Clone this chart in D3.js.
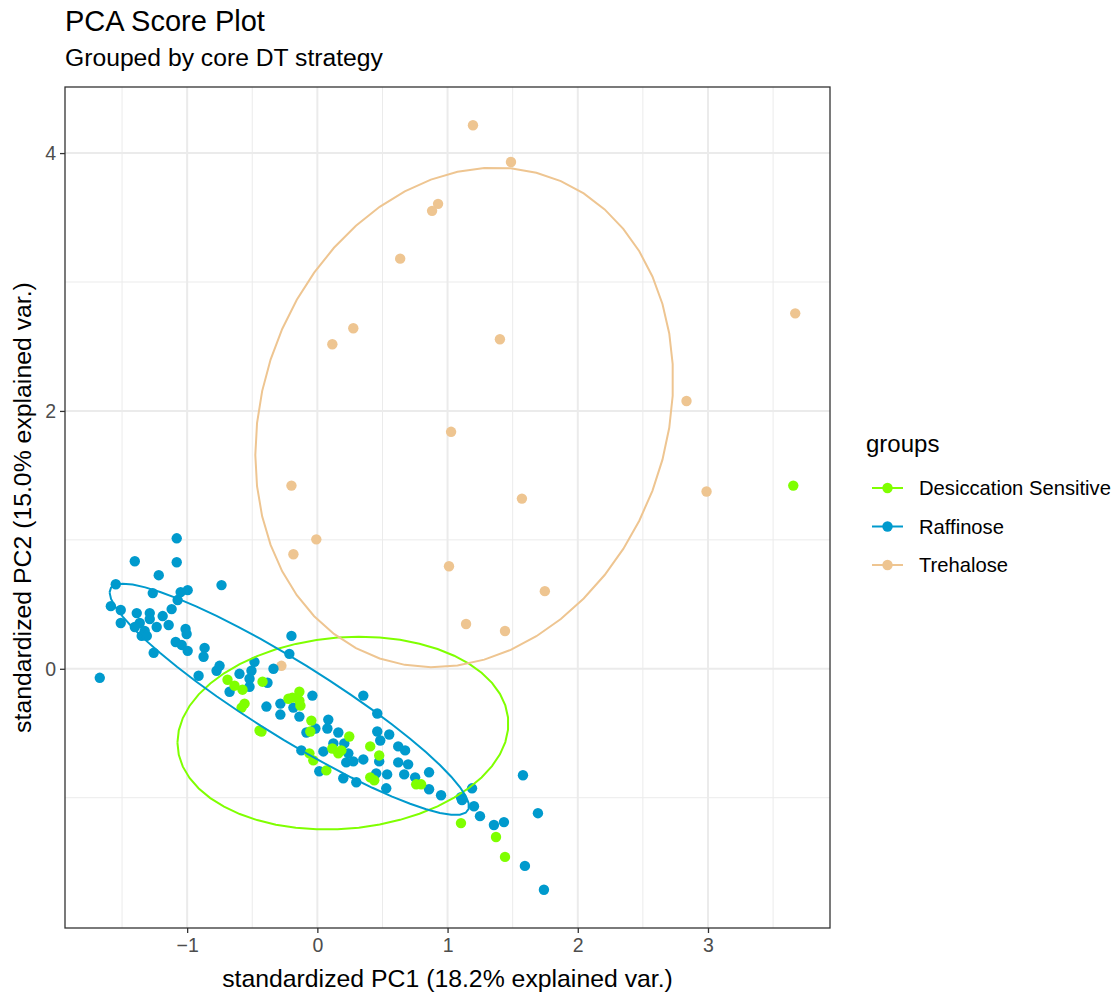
<!DOCTYPE html>
<html>
<head>
<meta charset="utf-8">
<script src="https://cdn.jsdelivr.net/npm/d3@7"></script>
<style>
  body { margin: 0; background: #fff; }
  text { font-family: "Liberation Sans", Arial, Helvetica, sans-serif; }
</style>
</head>
<body>
<svg id="chart" width="1116" height="994"></svg>
<script>
// groups + colours
const groups = ["Desiccation Sensitive", "Raffinose", "Trehalose"];
const groupColors = ["#7FFF00", "#009ACD", "#EEC591"];

// PC scores, [PC1, PC2]
const sensitiveScores = [
  [-0.690,-0.085],[-0.636,-0.131],[-0.575,-0.162],[-0.421,-0.100],[-0.559,-0.270],[-0.582,-0.301],
  [-0.222,-0.232],[-0.192,-0.224],[-0.138,-0.178],[-0.138,-0.247],[-0.130,-0.286],[-0.444,-0.479],
  [-0.429,-0.486],[-0.046,-0.402],[-0.054,-0.486],[-0.061,-0.656],[-0.031,-0.710],[0.069,-0.788],
  [0.115,-0.618],[0.161,-0.656],[0.184,-0.633],[0.245,-0.525],[0.406,-0.602],[0.475,-0.672],
  [0.406,-0.842],[0.437,-0.865],[0.759,-0.896],[0.797,-0.896],[1.103,-1.197],[1.372,-1.305],
  [1.441,-1.459],[3.655,1.421]
];

const raffinoseScores = [
  [-1.080,1.012],[-1.402,0.834],[-1.080,0.826],[-1.218,0.726],[-0.736,0.649],[-1.548,0.656],
  [-1.264,0.587],[-1.050,0.595],[-0.996,0.610],[-1.073,0.533],[-1.586,0.486],[-1.510,0.456],
  [-1.387,0.432],[-1.287,0.432],[-1.119,0.463],[-1.188,0.409],[-1.287,0.386],[-1.510,0.355],
  [-1.364,0.355],[-1.142,0.340],[-1.402,0.324],[-1.234,0.324],[-1.326,0.293],[-1.349,0.255],
  [-1.310,0.255],[-1.012,0.309],[-1.004,0.270],[-1.088,0.208],[-1.042,0.185],[-0.996,0.139],
  [-0.866,0.162],[-0.874,0.093],[-1.257,0.124],[-0.751,0.023],[-0.774,-0.015],[-0.912,-0.054],
  [-1.671,-0.070],[-0.199,0.255],[-0.215,0.116],[-0.337,0.000],[-0.483,0.054],[-0.506,-0.015],
  [-0.521,-0.077],[-0.521,-0.139],[-0.598,-0.039],[-0.383,-0.108],[-0.674,-0.178],[-0.391,-0.293],
  [-0.284,-0.270],[-0.284,-0.355],[-0.184,-0.301],[-0.138,-0.371],[-0.038,-0.208],[0.353,-0.208],
  [0.460,-0.347],[0.460,-0.486],[0.552,-0.510],[0.483,-0.556],[0.084,-0.394],[0.077,-0.463],
  [0.161,-0.494],[-0.084,-0.494],[-0.015,-0.463],[-0.123,-0.633],[0.046,-0.641],[0.123,-0.579],
  [0.207,-0.579],[0.238,-0.656],[0.222,-0.726],[0.276,-0.718],[0.353,-0.703],[0.475,-0.718],
  [0.015,-0.795],[0.199,-0.849],[0.299,-0.880],[0.452,-0.811],[0.536,-0.819],[0.621,-0.602],
  [0.674,-0.633],[0.621,-0.726],[0.697,-0.741],[0.667,-0.819],[0.751,-0.842],[0.858,-0.803],
  [0.529,-0.927],[0.858,-0.934],[0.950,-0.981],[1.103,-0.996],[1.111,-1.019],[1.188,-0.927],
  [1.203,-1.066],[1.249,-1.143],[1.356,-1.212],[1.433,-1.189],[1.579,-0.826],[1.694,-1.120],
  [1.594,-1.529],[1.740,-1.714]
];

const trehaloseScores = [
  [1.195,4.216],[1.487,3.931],[0.927,3.606],[0.881,3.552],[0.636,3.181],[0.276,2.641],
  [0.115,2.517],[1.402,2.556],[3.670,2.757],[2.835,2.077],[1.027,1.838],[-0.199,1.421],
  [1.571,1.320],[2.989,1.375],[-0.008,1.004],[-0.184,0.888],[1.011,0.795],[1.747,0.602],
  [1.142,0.347],[1.441,0.293],[-0.276,0.023]
];

const xTicks = [-1, 0, 1, 2, 3];
const xMinor = [-1.5, -0.5, 0.5, 1.5, 2.5, 3.5];
const yTicks = [0, 2, 4];
const yMinor = [-1, 1, 3];
const ellipseProb = 0.68;

const chartTitle = "PCA Score Plot";
const chartSubtitle = "Grouped by core DT strategy";
const xTitle = "standardized PC1 (18.2% explained var.)";
const yTitle = "standardized PC2 (15.0% explained var.)";
const legendTitle = "groups";

const scoreSets = [sensitiveScores, raffinoseScores, trehaloseScores];

// panel box
const panel = { left: 65, right: 830, top: 87, bottom: 928 };

const svg = d3.select("#chart");

// ranges with ggplot's 5% padding
const allPts = scoreSets.flat();
const xExt = d3.extent(allPts, d => d[0]);
const yExt = d3.extent(allPts, d => d[1]);
const xPad = (xExt[1] - xExt[0]) * 0.05;
const yPad = (yExt[1] - yExt[0]) * 0.05;

const x = d3.scaleLinear()
  .domain([xExt[0] - xPad, xExt[1] + xPad])
  .range([panel.left, panel.right]);
const y = d3.scaleLinear()
  .domain([yExt[0] - yPad, yExt[1] + yPad])
  .range([panel.bottom, panel.top]);

// grid
const grid = svg.append("g");
grid.selectAll(".xminor").data(xMinor).join("line")
  .attr("x1", d => x(d)).attr("x2", d => x(d))
  .attr("y1", panel.top).attr("y2", panel.bottom)
  .attr("stroke", "#EBEBEB").attr("stroke-width", 1);
grid.selectAll(".yminor").data(yMinor).join("line")
  .attr("y1", d => y(d)).attr("y2", d => y(d))
  .attr("x1", panel.left).attr("x2", panel.right)
  .attr("stroke", "#EBEBEB").attr("stroke-width", 1);
grid.selectAll(".xmajor").data(xTicks).join("line")
  .attr("x1", d => x(d)).attr("x2", d => x(d))
  .attr("y1", panel.top).attr("y2", panel.bottom)
  .attr("stroke", "#EBEBEB").attr("stroke-width", 2);
grid.selectAll(".ymajor").data(yTicks).join("line")
  .attr("y1", d => y(d)).attr("y2", d => y(d))
  .attr("x1", panel.left).attr("x2", panel.right)
  .attr("stroke", "#EBEBEB").attr("stroke-width", 2);

// points
const pointOrder = [2, 1, 0];
pointOrder.forEach(gi => {
  svg.append("g").selectAll("circle")
    .data(scoreSets[gi])
    .join("circle")
    .attr("cx", d => x(d[0]))
    .attr("cy", d => y(d[1]))
    .attr("r", 5.2)
    .attr("fill", groupColors[gi]);
});

// normal data ellipses, like ggbiplot
const ed = Math.sqrt(-2 * Math.log(1 - ellipseProb));
function ellipsePoints(pts) {
  const n = pts.length;
  const mx = d3.mean(pts, d => d[0]);
  const my = d3.mean(pts, d => d[1]);
  let sxx = 0, syy = 0, sxy = 0;
  pts.forEach(d => {
    sxx += (d[0] - mx) ** 2;
    syy += (d[1] - my) ** 2;
    sxy += (d[0] - mx) * (d[1] - my);
  });
  sxx /= n - 1; syy /= n - 1; sxy /= n - 1;
  // upper cholesky factor
  const r11 = Math.sqrt(sxx);
  const r12 = sxy / r11;
  const r22 = Math.sqrt(syy - r12 * r12);
  const out = [];
  for (let i = 0; i < 50; i++) {
    const t = -Math.PI + i * 2 * Math.PI / 49;
    const c1 = Math.cos(t), c2 = Math.sin(t);
    out.push([mx + ed * c1 * r11, my + ed * (c1 * r12 + c2 * r22)]);
  }
  return out;
}

const line = d3.line().x(d => x(d[0])).y(d => y(d[1]));
scoreSets.forEach((pts, gi) => {
  svg.append("path")
    .attr("d", line(ellipsePoints(pts)))
    .attr("fill", "none")
    .attr("stroke", groupColors[gi])
    .attr("stroke-width", 2);
});

// panel border
svg.append("rect")
  .attr("x", panel.left).attr("y", panel.top)
  .attr("width", panel.right - panel.left).attr("height", panel.bottom - panel.top)
  .attr("fill", "none").attr("stroke", "#333333").attr("stroke-width", 1.3);

// axes
const fmt = d => d < 0 ? "\u2212" + Math.abs(d) : String(d);
const xAxis = svg.append("g")
  .attr("transform", `translate(0,${panel.bottom})`)
  .call(d3.axisBottom(x).tickValues(xTicks).tickFormat(fmt).tickSize(5).tickPadding(5));
const yAxis = svg.append("g")
  .attr("transform", `translate(${panel.left},0)`)
  .call(d3.axisLeft(y).tickValues(yTicks).tickFormat(fmt).tickSize(5).tickPadding(4));
[xAxis, yAxis].forEach(a => {
  a.select(".domain").remove();
  a.selectAll(".tick line").attr("stroke", "#333333").attr("stroke-width", 1.3);
  a.selectAll(".tick text")
    .attr("fill", "#4D4D4D")
    .style("font-size", "19.5px")
    .style("font-family", "'Liberation Sans', Arial, sans-serif");
});

// titles
svg.append("text").attr("x", 65).attr("y", 31)
  .style("font-size", "29px").attr("fill", "#000").text(chartTitle);
svg.append("text").attr("x", 65).attr("y", 66)
  .style("font-size", "24.7px").attr("fill", "#000").text(chartSubtitle);
svg.append("text")
  .attr("x", (panel.left + panel.right) / 2).attr("y", 987)
  .attr("text-anchor", "middle")
  .style("font-size", "24.8px").text(xTitle);
svg.append("text")
  .attr("transform", `translate(31,${(panel.top + panel.bottom) / 2}) rotate(-90)`)
  .attr("text-anchor", "middle")
  .style("font-size", "24.8px").text(yTitle);

// legend
const legend = svg.append("g").attr("transform", "translate(866,0)");
legend.append("text").attr("x", 0).attr("y", 452)
  .style("font-size", "24px").text(legendTitle);
const rows = legend.selectAll(".key").data(groups).join("g")
  .attr("transform", (d, i) => `translate(0,${488 + i * 38.5})`);
rows.append("line")
  .attr("x1", 6).attr("x2", 37).attr("y1", 0).attr("y2", 0)
  .attr("stroke", (d, i) => groupColors[i]).attr("stroke-width", 2);
rows.append("circle")
  .attr("cx", 21.5).attr("cy", 0).attr("r", 5.2)
  .attr("fill", (d, i) => groupColors[i]);
rows.append("text")
  .attr("x", 53).attr("y", 7)
  .style("font-size", "20.2px").text(d => d);
</script>
</body>
</html>
